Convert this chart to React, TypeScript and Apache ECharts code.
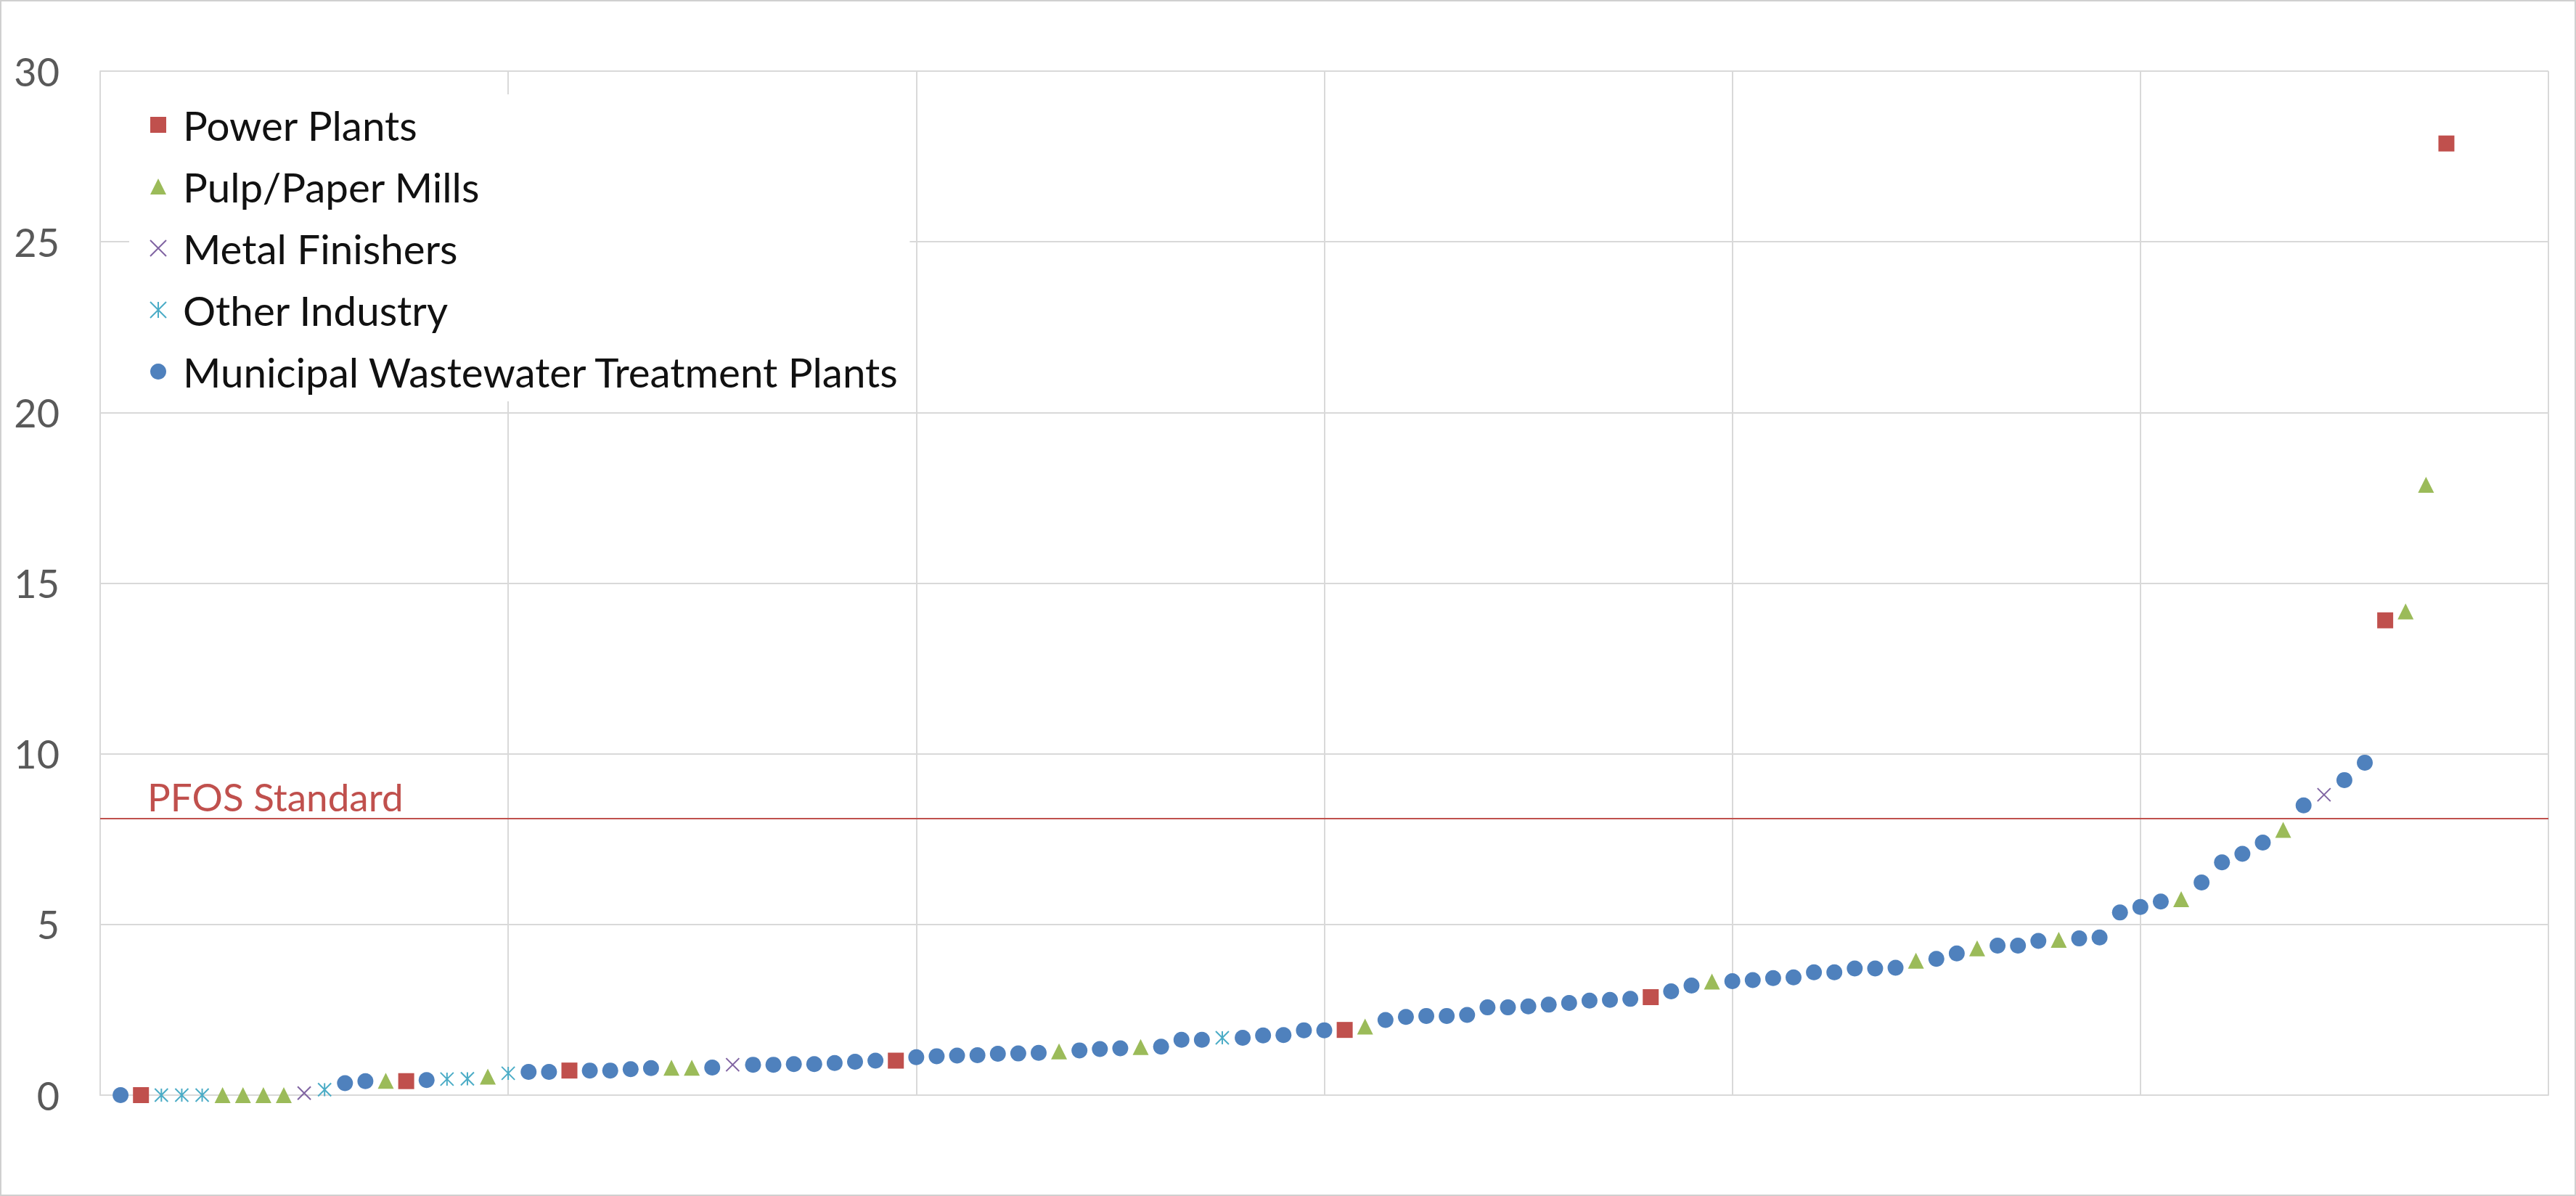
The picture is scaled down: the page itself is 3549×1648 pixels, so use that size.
import React, { useEffect, useRef } from "react";
import * as echarts from "echarts";

// ---- Data (rank along the sorted x-axis, and measured value) ----
const categories = [
  "Power Plants",
  "Pulp/Paper Mills",
  "Metal Finishers",
  "Other Industry",
  "Municipal Wastewater Treatment Plants",
];

const powerPlantsRank = [2, 15, 23, 39, 61, 76, 112, 115];
const powerPlantsValue = [0, 0.41, 0.72, 1.01, 1.91, 2.87, 13.91, 27.88];

const pulpPaperRank = [6, 7, 8, 9, 14, 19, 28, 29, 47, 51, 62, 79, 89, 92, 96, 102, 107, 113, 114];
const pulpPaperValue = [0, 0, 0, 0, 0.42, 0.54, 0.8, 0.8, 1.28, 1.41, 2.01, 3.33, 3.94, 4.3, 4.55, 5.74, 7.77, 14.17, 17.88];

const metalFinishersRank = [10, 31, 109];
const metalFinishersValue = [0.06, 0.89, 8.8];

const otherIndustryRank = [3, 4, 5, 11, 17, 18, 20, 55];
const otherIndustryValue = [0, 0, 0, 0.16, 0.47, 0.48, 0.64, 1.68];

const municipalRank = [
  1, 12, 13, 16, 21, 22, 24, 25, 26, 27, 30, 32, 33, 34, 35, 36, 37, 38, 40, 41,
  42, 43, 44, 45, 46, 48, 49, 50, 52, 53, 54, 56, 57, 58, 59, 60, 63, 64, 65, 66,
  67, 68, 69, 70, 71, 72, 73, 74, 75, 77, 78, 80, 81, 82, 83, 84, 85, 86, 87, 88,
  90, 91, 93, 94, 95, 97, 98, 99, 100, 101, 103, 104, 105, 106, 108, 110, 111,
];
const municipalValue = [
  0, 0.35, 0.41, 0.44, 0.68, 0.68, 0.72, 0.72, 0.76, 0.79, 0.81, 0.89, 0.89, 0.91, 0.91, 0.94, 0.98, 1.01, 1.11, 1.14,
  1.16, 1.17, 1.21, 1.22, 1.24, 1.31, 1.35, 1.37, 1.42, 1.62, 1.62, 1.68, 1.75, 1.76, 1.9, 1.9, 2.2, 2.29, 2.32, 2.32,
  2.35, 2.57, 2.57, 2.6, 2.65, 2.7, 2.77, 2.79, 2.82, 3.04, 3.21, 3.34, 3.37, 3.43, 3.45, 3.6, 3.6, 3.71, 3.71, 3.73,
  3.99, 4.15, 4.38, 4.38, 4.52, 4.59, 4.62, 5.35, 5.51, 5.67, 6.23, 6.82, 7.07, 7.4, 8.49, 9.23, 9.74,
];

const pfosStandard = 8.1;
const pfosLabel = "PFOS Standard";

const xMin = 0;
const xMax = 120;
const xInterval = 20;
const yMin = 0;
const yMax = 30;
const yInterval = 5;

const FONT = "Lato";

export default function App() {
  const ref = useRef<HTMLDivElement>(null);

  useEffect(() => {
    document.body.style.margin = "0";
    const chart = echarts.init(ref.current as HTMLDivElement, null, { renderer: "svg" });
    const zip = (r: number[], v: number[]) => r.map((x, i) => [x, v[i]]);

    const xSymbol = "path://M0,0 L10,10 M10,0 L0,10";
    const starSymbol = "path://M0,0 L10,10 M10,0 L0,10 M5,0 L5,10";

    const defs = [
      { name: categories[0], data: zip(powerPlantsRank, powerPlantsValue), symbol: "rect", size: 22, color: "#C0504D", stroke: false },
      { name: categories[1], data: zip(pulpPaperRank, pulpPaperValue), symbol: "triangle", size: 22, color: "#9BBB59", stroke: false },
      { name: categories[2], data: zip(metalFinishersRank, metalFinishersValue), symbol: xSymbol, size: 18, color: "#8064A2", stroke: true },
      { name: categories[3], data: zip(otherIndustryRank, otherIndustryValue), symbol: starSymbol, size: 18, color: "#4BACC6", stroke: true },
      { name: categories[4], data: zip(municipalRank, municipalValue), symbol: "circle", size: 22, color: "#4F81BD", stroke: false },
    ];

    const series: any[] = defs.map((d, i) => ({
      type: "scatter",
      name: d.name,
      data: d.data,
      symbol: d.symbol,
      symbolSize: d.size,
      itemStyle: d.stroke
        ? { color: d.color, borderColor: d.color, borderWidth: 2, opacity: 1 }
        : { color: d.color, opacity: 1 },
      emphasis: { disabled: true },
      z: 3,
      ...(i === 0
        ? {
            markLine: {
              silent: true,
              symbol: "none",
              animation: false,
              label: { show: false },
              lineStyle: { color: "#C0504D", width: 2, type: "solid", opacity: 1 },
              data: [{ yAxis: pfosStandard }],
            },
          }
        : {}),
    }));

    const option: any = {
      animation: false,
      backgroundColor: "#ffffff",
      grid: { left: 138, top: 98, right: 38, bottom: 139, containLabel: false },
      xAxis: {
        type: "value",
        min: xMin,
        max: xMax,
        interval: xInterval,
        axisLine: { show: true, lineStyle: { color: "#d9d9d9", width: 2 } },
        axisTick: { show: false },
        axisLabel: { show: false },
        splitLine: { show: true, lineStyle: { color: "#d9d9d9", width: 2 } },
      },
      yAxis: {
        type: "value",
        min: yMin,
        max: yMax,
        interval: yInterval,
        axisLine: { show: true, lineStyle: { color: "#d9d9d9", width: 2 } },
        axisTick: { show: false },
        axisLabel: { color: "#595959", fontSize: 54, fontFamily: FONT, margin: 56 },
        splitLine: { show: true, lineStyle: { color: "#d9d9d9", width: 2 } },
      },
      legend: {
        show: true,
        orient: "vertical",
        left: 178,
        top: 130,
        backgroundColor: "#ffffff",
        padding: [12, 13, 11, 28],
        itemWidth: 22,
        itemHeight: 22,
        itemGap: 25,
        selectedMode: false,
        textStyle: {
          color: "#111111",
          fontSize: 56.5,
          fontFamily: FONT,
          lineHeight: 60,
          padding: [0, 0, 0, 18],
        },
        data: categories,
        z: 10,
      },
      series,
    };

    chart.setOption(option);

    const p = chart.convertToPixel({ gridIndex: 0 }, [xMin, pfosStandard]) as number[];
    chart.setOption({
      graphic: [
        {
          type: "text",
          x: p[0] + 65,
          y: p[1] - 4,
          silent: true,
          style: {
            text: pfosLabel,
            fill: "#C0504D",
            fontSize: 53,
            fontFamily: FONT,
            verticalAlign: "bottom",
          },
          z: 5,
        },
        {
          type: "rect",
          shape: { x: 1, y: 1, width: 3547, height: 1646 },
          style: { fill: "none", stroke: "#d0d0d0", lineWidth: 2 },
          silent: true,
          z: 0,
        },
      ],
    });

    return () => {
      chart.dispose();
    };
  }, []);

  return (
    <div
      ref={ref}
      style={{ position: "fixed", left: 0, top: 0, width: 3549, height: 1648 }}
    />
  );
}
